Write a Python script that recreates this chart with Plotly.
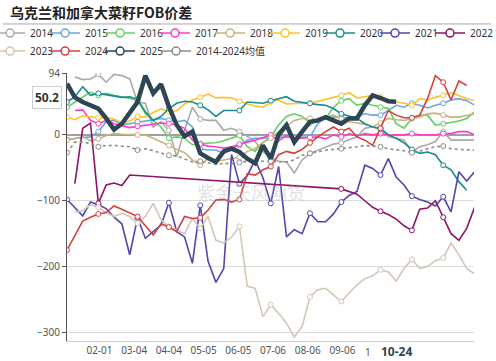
import plotly.graph_objects as go
import pandas as pd

N = None
# weekly categories (mapped onto a common year)
weeks = list(pd.date_range("2001-01-03", periods=53, freq="7D").strftime("%Y-%m-%d"))

y2014 = [N, 88, 84, 85, 92, 80, 92, 90, 85, 50,
         48, 12, 20, 7, -33, 7, 42, 24, 22, 22,
         7, 10, 5, -2, -10, -25, -35, -40, -41, -58,
         -38, -28, -23, -18, -14, -12, -8, -3, 10, 12,
         8, -3, -5, -8, -26, -18, -15, -10, 5, -8,
         -8, -8, -8]
y2015 = [-7, -5, -4, -3, 5, 20, 22, 15, 17, 20,
         22, 24, 25, 22, 20, 22, 12, -21, -23, -23,
         -28, -20, -16, -8, -5, -5, -4, -3, -3, -4,
         -3, -3, 17, 27, 27, 27, 25, 28, 32, 30,
         30, 37, 45, 42, 48, 45, 41, 45, 48, 53,
         55, 52, 45]
y2016 = [42, 50, 58, 65, 60, 63, 60, 58, 56, 53,
         32, 22, 12, -5, -3, -5, -15, -13, -13, -12,
         -9, -5, -1, -18, -25, -12, -3, 15, 28, 32,
         28, 18, 20, 25, 42, 52, 55, 45, 48, 45,
         42, 40, 17, 10, 25, 30, 30, 15, 17, 19,
         21, 25, 35]
y2017 = [N, 37, 38, 22, 17, 22, 17, 14, 11, 13,
         15, 17, 18, 17, 15, 10, -8, -14, -17, -18,
         -20, -18, -14, -11, -8, -4, 0, -9, -1, -4,
         -5, -4, -3, -6, 0, -3, 2, -2, 2, 0,
         2, 0, 0, 0, 2, 0, 0, 0, 2, 2,
         5, 5, 0]
y2018 = [-8, -5, -3, -9, -6, -1, 2, 1, 1, 0,
         0, -5, -10, -16, -22, -27, -38, -46, -36, -40,
         -38, -36, -34, -25, -21, -11, -5, 5, 14, 22,
         25, 25, 22, 27, 30, 25, 20, 18, 16, 12,
         18, 25, 23, 22, 25, 27, 32, 33, 30, 27,
         27, 29, 32]
y2019 = [27, 23, 29, 27, 26, 26, 24, 18, 21, 28,
         27, 34, 40, 35, 37, 47, 53, 57, 62, 56,
         57, 56, 51, 47, 44, 42, 50, 53, 47, 48,
         48, 48, 51, 53, 57, 60, 64, 56, 58, 60,
         57, 53, 50, 48, 45, 55, 53, 57, 60, 64,
         60, 55, 52]
y2020 = [50, 58, 73, 60, 63, 61, 58, 57, 58, 54,
         35, 22, 28, 40, 48, 51, 50, 45, 38, 28,
         37, 37, 37, 50, 49, 48, 52, 55, 58, 51,
         49, 48, 46, 45, 40, 32, 28, 25, 17, 12,
         10, 0, -5, -12, -22, -28, -26, -30, -46, -53,
         -71, -84, N]
y2021 = [-98, -110, -123, -102, -106, -112, -125, -135, -182, -126,
         -157, -147, -137, -103, -147, -155, -195, -107, -192, -224,
         -203, -30, -74, -62, -38, -65, -104, -48, -155, -144,
         -150, -119, -132, -132, -120, -102, -92, -86, -46, -51,
         -61, -36, -64, -76, -93, -98, -102, -108, -94, -117,
         -56, -70, -56]
y2022 = [N, -74, 10, 18, -104, -76, -73, -77, -61, N,
         N, N, N, N, N, N, N, N, N, N,
         N, N, N, N, N, N, N, N, N, N,
         N, N, N, N, N, -82, -86, -90, -100, -110,
         -116, -121, -128, -138, -145, -113, -111, -100, -125, -150,
         -160, -142, -110]
y2023 = [N, -117, -115, -106, -110, -118, -124, -119, -124, -134,
         -124, -104, -129, -139, -145, -150, -127, -142, -124, -160,
         -164, -155, -139, -230, -233, -276, -258, -271, -286, -307,
         -291, -246, -235, -233, -243, -253, -240, -228, -218, -214,
         -205, -208, -222, -203, -189, -203, -200, -191, -187, -164,
         -182, -203, -211]
y2024 = [-175, -152, -131, -125, -120, -118, -108, -113, -118, -124,
         -138, -152, -135, -140, -147, -124, -127, -126, -114, -99,
         -98, -102, -98, -59, -61, -53, -48, -30, -25, -28,
         -22, -12, -3, 5, 12, 5, 10, -3, -8, -16,
         10, 37, 30, 26, 26, 30, 55, 90, 80, 53,
         82, 75, N]
y2025 = [78, 57, 50, 45, 40, 25, 8, 17, 35, 50,
         90, 63, 77, 43, 15, -2, 5, -28, -35, -41,
         -25, -21, -26, -36, -43, -16, -36, 0, 15, -11,
         5, 20, 22, 27, 22, 17, 25, 25, 45, 60,
         56, 51, 50.2, N, N, N, N, N, N, N,
         N, N, N]
y_mean = [-27, -11, -11, -13, -18, -16, -16, -17, -18, -23,
          -21, -24, -28, -31, -32, -37, -41, -40, -42, -45,
          -43, -44, -42, -40, -38, -40, -40, -41, -41, -38,
          -31, -28, -25, -23, -22, -21, -19, -18, -16, -17,
          -18, -21, -22, -24, -27, -25, -21, -18, -17, -21,
          -22, -22, -23]

names = ["2014", "2015", "2016", "2017", "2018", "2019", "2020", "2021",
         "2022", "2023", "2024", "2025", "2014-2024均值"]
values = [y2014, y2015, y2016, y2017, y2018, y2019, y2020, y2021,
          y2022, y2023, y2024, y2025, y_mean]

x_tickvals = ["2001-02-01", "2001-03-04", "2001-04-04", "2001-05-05",
              "2001-06-05", "2001-07-06", "2001-08-06", "2001-09-06"]
x_ticktext = ["02-01", "03-04", "04-04", "05-05", "06-05", "07-06", "08-06", "09-06"]
y_tickvals = [94, 0, -100, -200, -300]
last_value = 50.2
last_date = "2001-10-24"

colors = {
    "2014": "#a9a9a9", "2015": "#6aa6e0", "2016": "#5fd35f", "2017": "#ff3cc8",
    "2018": "#c8b27e", "2019": "#ffc125", "2020": "#1a8c8e", "2021": "#5146ad",
    "2022": "#8e1568", "2023": "#d4c6b6", "2024": "#d6403a", "2025": "#2e4553",
    "2014-2024均值": "#8c8c8c",
}
symbol_idx = {0, 4, 9, 13, 17, 22, 26, 31, 35, 40, 44, 48}

FONT = "Noto Sans, Noto Sans CJK SC, sans-serif"
fig = go.Figure()

order = [0, 1, 2, 3, 4, 5, 6, 7, 8, 9, 10, 12, 11]
for k in order:
    nm, vals = names[k], values[k]
    col = colors[nm]
    is25 = nm == "2025"
    is_mean = k == 12
    op = [1 if (i in symbol_idx and not is25) else 0 for i in range(len(vals))]
    fig.add_trace(go.Scatter(
        x=weeks, y=vals, name=nm, mode="lines+markers",
        connectgaps=True, showlegend=False,
        line=dict(color=col, width=4.5 if is25 else 1.6,
                  dash="dot" if is_mean else "solid"),
        marker=dict(symbol="circle", size=5, color="white", opacity=op,
                    line=dict(color=col, width=1)),
        hoverinfo="skip",
    ))

# legend entries
groups = [("legend", names[0:5]), ("legend2", names[5:9]),
          ("legend3", names[9:12]), ("legend4", names[12:13])]
for lg, nms in groups:
    for j, nm in enumerate(nms):
        last = j == len(nms) - 1
        fig.add_trace(go.Scatter(
            x=[None], y=[None], name=nm, mode="lines+markers",
            legend=lg, showlegend=True,
            legendwidth=90 if last else 10,
            line=dict(color=colors[nm], width=1.5),
            marker=dict(symbol="circle", size=8, color="white",
                        line=dict(color=colors[nm], width=1.5)),
        ))

leg_common = dict(orientation="h", xanchor="left", yanchor="middle",
                  font=dict(family=FONT, size=10, color="#333"),
                  bgcolor="rgba(0,0,0,0)", itemwidth=30, entrywidth=10,
                  tracegroupgap=0)
fig.update_layout(
    legend=dict(x=-0.189, y=1.149, **leg_common),
    legend2=dict(x=0.4865, y=1.149, **leg_common),
    legend3=dict(x=-0.189, y=1.082, **leg_common),
    legend4=dict(x=0.2188, y=1.082, **leg_common),
)

fig.update_layout(
    width=496, height=361,
    margin=dict(l=67, r=22, t=73, b=20, autoexpand=False),
    paper_bgcolor="white", plot_bgcolor="white",
    font=dict(family=FONT, size=10, color="#555"),
    title=dict(text="<b>乌克兰和加拿大菜籽FOB价差</b>",
               font=dict(family="Noto Sans CJK SC", size=14, color="#222"),
               x=10 / 496, xref="container", xanchor="left",
               y=1 - 13 / 361, yref="container", yanchor="middle"),
    xaxis=dict(type="date", range=["2001-01-03", "2002-01-01 12:00"],
               tickvals=x_tickvals, ticktext=x_ticktext,
               showgrid=False, zeroline=False, showline=True,
               linecolor="#cccccc", linewidth=1, ticks="",
               tickfont=dict(size=10, color="#555")),
    yaxis=dict(range=[-313, 94], tickvals=y_tickvals,
               showgrid=True, gridcolor="#dcdcdc", gridwidth=1,
               zeroline=True, zerolinecolor="#a0a0a0", zerolinewidth=2,
               showline=True, linecolor="#555", linewidth=1,
               ticks="outside", ticklen=4, tickcolor="#555",
               tickfont=dict(size=10, color="#555")),
    shapes=[dict(type="line", xref="paper", yref="paper",
                 x0=-0.157, x1=1.042, y0=1.183, y1=1.183,
                 line=dict(color="#aaaaaa", width=1))],
    annotations=[
        dict(text="紫金天风期货", xref="paper", yref="paper",
             x=0.453, y=0.556, showarrow=False,
             font=dict(family="Noto Sans CJK SC", size=18,
                       color="rgba(170,170,170,0.35)")),
        dict(text="<b>%s</b>" % last_value, xref="paper", yref="y",
             x=-0.012, y=last_value, xanchor="right", yanchor="middle",
             yshift=4, showarrow=False, bgcolor="white",
             bordercolor="#cccccc", borderwidth=1, borderpad=2,
             font=dict(family=FONT, size=12, color="#333")),
        dict(text="<b>10-24</b>", xref="x", yref="paper",
             x=last_date, y=-0.041, yanchor="middle", showarrow=False,
             font=dict(family=FONT, size=12, color="#2e4553")),
        dict(text="1", xref="x", yref="paper",
             x="2001-09-29", y=-0.041, yanchor="middle", showarrow=False,
             font=dict(family=FONT, size=10, color="#555")),
    ],
)

fig.write_html("out.html", config={"displayModeBar": False},
               post_script="document.body.style.margin='0';document.body.style.overflow='hidden';")
